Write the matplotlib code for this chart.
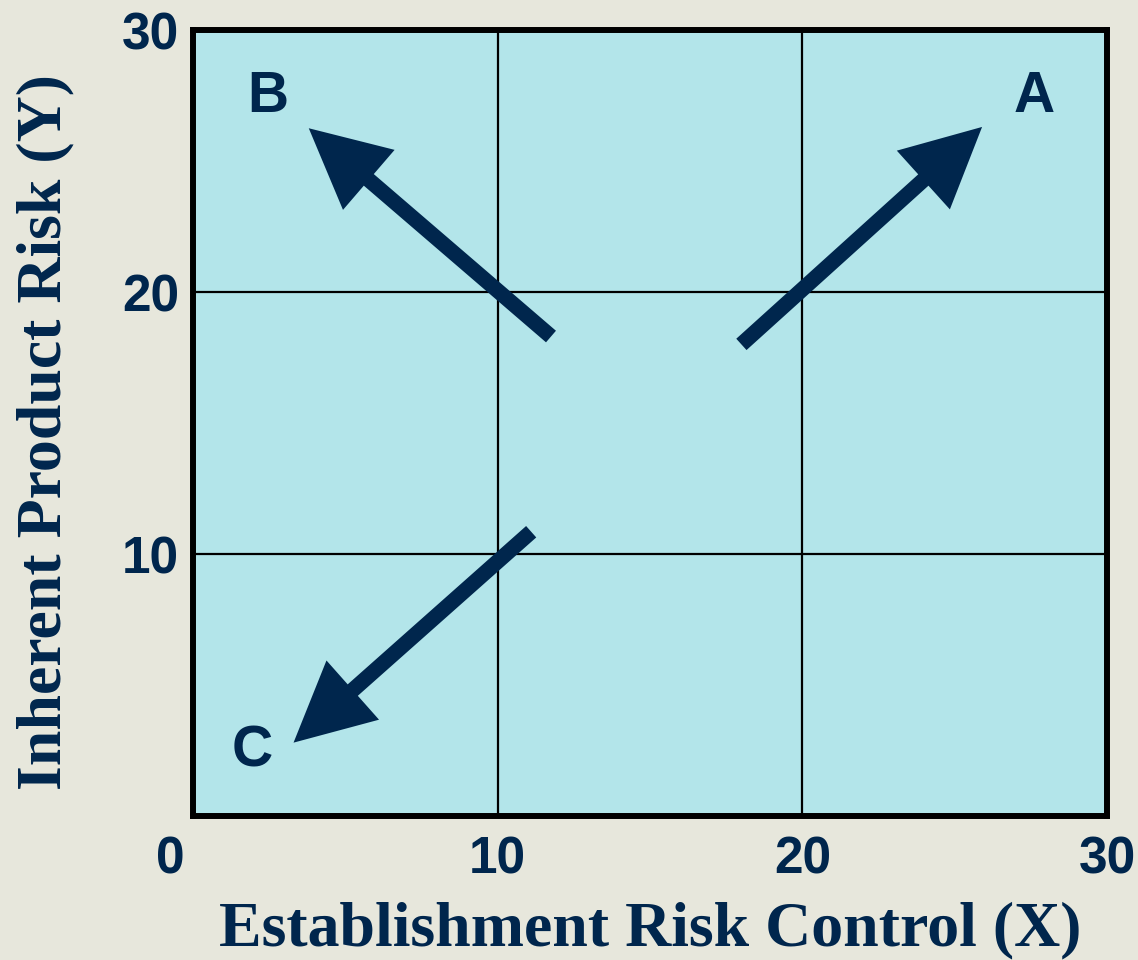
import matplotlib.pyplot as plt
from matplotlib.patches import FancyArrowPatch
from matplotlib.transforms import ScaledTranslation

# axis ticks
x_ticks = [0, 10, 20, 30]
y_ticks = [10, 20, 30]

# arrows: tail (x, y) -> head (x, y)
arrow_names = ["A", "B", "C"]
arrow_tails = [(18.0, 18.0), (11.75, 18.3), (11.1, 10.85)]
arrow_heads = [(25.9, 26.3), (3.8, 26.25), (3.3, 2.8)]

# letter labels next to the arrow heads
label_pos = [(27.6, 27.45), (2.45, 27.45), (1.95, 2.45)]

navy = "#00264d"
bg = "#e7e7dc"
fill = "#b3e5ea"

fig = plt.figure(figsize=(11.38, 9.60), dpi=100, facecolor=bg)
ax = fig.add_axes([193/1138, 144/960, 914/1138, 786/960])
ax.set_facecolor(fill)
ax.set_xlim(0, 30)
ax.set_ylim(0, 30)

ax.set_xticks(x_ticks)
ax.set_yticks(y_ticks)
ax.tick_params(length=0, labelsize=37, labelcolor=navy)
ax.tick_params(axis="x", pad=14)
ax.tick_params(axis="y", pad=10)
for lab in ax.get_xticklabels() + ax.get_yticklabels():
    lab.set_fontfamily("Liberation Sans")
    lab.set_fontweight("bold")
# the zero label sits a bit to the left of the corner
zero = ax.get_xticklabels()[0]
zero.set_transform(zero.get_transform() + ScaledTranslation(-23/100, 0, fig.dpi_scale_trans))

ax.grid(True, color="black", linewidth=1.6)
ax.set_axisbelow(True)
for s in ax.spines.values():
    s.set_linewidth(4.3)
    s.set_color("black")

ax.set_xlabel("Establishment Risk Control (X)", fontsize=46, fontweight="bold",
              family="Liberation Serif", color=navy)
ax.xaxis.set_label_coords(0.5, -0.145)
ax.xaxis.label.set_verticalalignment("center")
ax.set_ylabel("Inherent Product Risk (Y)", fontsize=46, fontweight="bold",
              family="Liberation Serif", color=navy)
ax.yaxis.set_label_coords(-0.161, 0.489)
ax.yaxis.label.set_verticalalignment("center")

for tail, head in zip(arrow_tails, arrow_heads):
    arr = FancyArrowPatch(tail, head,
                          arrowstyle="simple,head_length=57,head_width=57,tail_width=11",
                          mutation_scale=1, shrinkA=0, shrinkB=0,
                          color=navy, linewidth=0, zorder=3)
    ax.add_patch(arr)

for name, (lx, ly) in zip(arrow_names, label_pos):
    ax.text(lx, ly, name, fontsize=41, fontweight="bold", family="Liberation Sans",
            color=navy, ha="center", va="center")

fig.savefig("out.png", facecolor=bg)
